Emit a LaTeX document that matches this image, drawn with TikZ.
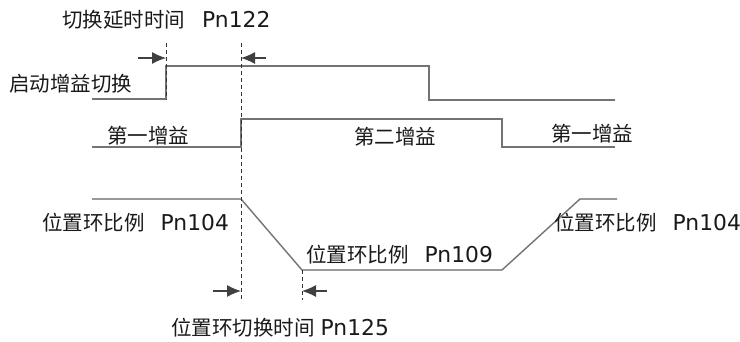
\documentclass[tikz,border=0pt]{standalone}
\usepackage{fontspec}
\setmainfont{DejaVu Sans}
\newfontfamily\cjk{Noto Sans CJK SC}
\newcommand{\pnlbl}[1]{{\fontsize{21.8}{23}\selectfont #1}}
\usetikzlibrary{arrows.meta}
\begin{document}
\begin{tikzpicture}[x=1pt,y=-1pt,
  wave/.style={draw=black!55,line width=1.3pt,line join=miter},
  shadow/.style={draw=black!12,line width=1.6pt},
  guide/.style={draw=black!80,line width=0.7pt,dash pattern=on 4pt off 3pt},
  dimarrow/.style={draw=black!75,line width=1.1pt,arrows={-Latex[length=14pt,width=12pt,fill=black!75]}},
  lbl/.style={anchor=west,inner sep=0pt,font=\fontsize{20.5}{23}\selectfont,text=black!90}]
\useasboundingbox (0,0) rectangle (740,341);
% coordinates
\coordinate (s1a) at (92,99);  \coordinate (s1b) at (166,99);
\coordinate (s1c) at (166,66); \coordinate (s1d) at (429,66);
\coordinate (s1e) at (429,100);\coordinate (s1f) at (615,100);
\coordinate (s2a) at (92,147); \coordinate (s2b) at (241,147);
\coordinate (s2c) at (241,119);\coordinate (s2d) at (502,119);
\coordinate (s2e) at (502,147);\coordinate (s2f) at (615,147);
\coordinate (s3a) at (92,199); \coordinate (s3b) at (241,199);
\coordinate (s3c) at (302,270);\coordinate (s3d) at (502,270);
\coordinate (s3e) at (580,199);\coordinate (s3f) at (617,199);
% shadows
\begin{scope}[shift={(2,2)}]
\draw[shadow] (s1a)--(s1b)--(s1c)--(s1d)--(s1e)--(s1f);
\draw[shadow] (s2a)--(s2b)--(s2c)--(s2d)--(s2e)--(s2f);
\draw[shadow] (s3a)--(s3b)--(s3c)--(s3d)--(s3e)--(s3f);
\end{scope}
% waves
\draw[wave] (s1a)--(s1b)--(s1c)--(s1d)--(s1e)--(s1f);
\draw[wave] (s2a)--(s2b)--(s2c)--(s2d)--(s2e)--(s2f);
\draw[wave] (s3a)--(s3b)--(s3c)--(s3d)--(s3e)--(s3f);
% guides
\coordinate (g1t) at (166,43); \coordinate (g1b) at (166,100);
\coordinate (g2t) at (241,43); \coordinate (g2b) at (241,300);
\coordinate (g3t) at (302,270); \coordinate (g3b) at (302,300);
\draw[guide] (g1t)--(g1b);
\draw[guide] (g2t)--(g2b);
\draw[guide] (g3t)--(g3b);
% dimension arrows
\coordinate (a1s) at (138,58); \coordinate (a1e) at (166,58);
\coordinate (a2s) at (266,58); \coordinate (a2e) at (241,58);
\coordinate (a3s) at (213,291); \coordinate (a3e) at (241,291);
\coordinate (a4s) at (327,291); \coordinate (a4e) at (302,291);
\draw[dimarrow] (a1s)--(a1e);
\draw[dimarrow] (a2s)--(a2e);
\draw[dimarrow] (a3s)--(a3e);
\draw[dimarrow] (a4s)--(a4e);
% labels
\node[lbl] (t1) at (62,20) {{\cjk 切换延时时间}\hspace{17pt}\pnlbl{Pn122}};
\node[lbl] (t2) at (9,84) {\cjk 启动增益切换};
\node[lbl] (t3) at (107,136) {\cjk 第一增益};
\node[lbl] (t4) at (354,137) {\cjk 第二增益};
\node[lbl] (t5) at (551,134) {\cjk 第一增益};
\node[lbl] (t6) at (42,223) {{\cjk 位置环比例}\hspace{16pt}\pnlbl{Pn104}};
\node[lbl] (t7) at (306,255) {{\cjk 位置环比例}\hspace{16pt}\pnlbl{Pn109}};
\node[lbl] (t8) at (554,223) {{\cjk 位置环比例}\hspace{16pt}\pnlbl{Pn104}};
\node[lbl] (t9) at (171,328) {{\cjk 位置环切换时间}\hspace{6pt}\pnlbl{Pn125}};
\end{tikzpicture}
\end{document}
